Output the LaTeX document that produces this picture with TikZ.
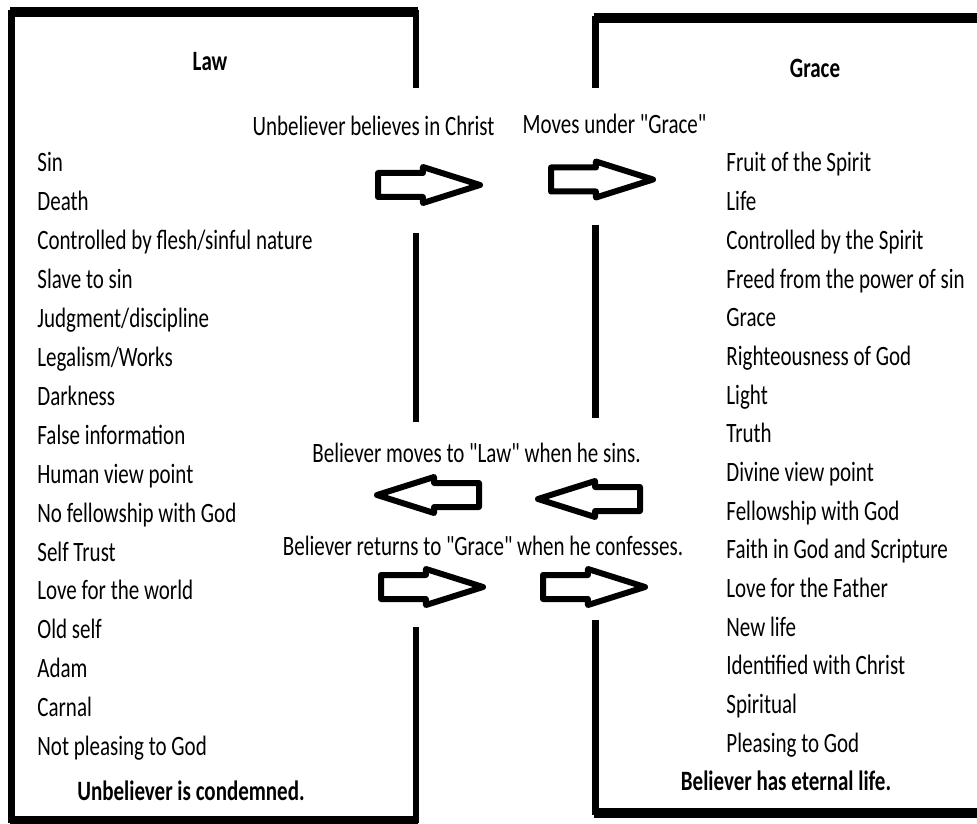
\documentclass[tikz,border=0pt]{standalone}
\usepackage{fontspec}
\newfontfamily\carlito{Carlito}[FakeStretch=0.75]
\usetikzlibrary{shapes.arrows}

\tikzset{
  item/.style={anchor=base west},
  title/.style={anchor=base, font=\fontsize{14}{17}\carlito\bfseries},
  note/.style={anchor=base},
  hwall/.style={line width=5pt},
  vwall/.style={line width=3.25pt},
  blockarrow/.style={single arrow, draw, fill=white, line width=3pt, line join=round,
    minimum height=51pt, inner sep=4.5pt, single arrow head extend=3pt,
    single arrow tip angle=35, anchor=tail},
  backarrow/.style={blockarrow, shape border rotate=180}
}

\begin{document}
\begin{tikzpicture}[x=0.5pt, y=-0.5pt, every node/.style={font=\fontsize{14}{17}\carlito, inner sep=0pt}]
  \useasboundingbox (0,0) rectangle (977,823);
  % Law box, open on the right where the arrows pass
  \draw[hwall] (10,12) -- (418,12);
  \draw[hwall] (10,821) -- (418,821);
  \draw[vwall] (11.5,10) -- (11.5,823);
  \draw[vwall] (416,10) -- (416,88);
  \draw[vwall] (416,233) -- (416,422);
  \draw[vwall] (416,627) -- (416,823);
  % Grace box, runs off the right edge
  \draw[hwall] (594,18) -- (977,18);
  \draw[hwall] (594,813) -- (977,813);
  \draw[vwall] (595.5,16) -- (595.5,88);
  \draw[vwall] (595.5,225) -- (595.5,418);
  \draw[vwall] (595.5,620) -- (595.5,815);

  \node[title] (law) at (210,71) {Law};
  \node[title] (grace) at (815,78) {Grace};

  \node[item] (sin) at (37,172) {Sin};
  \node[item] (death) at (37,210.9) {Death};
  \node[item] (flesh) at (37,249.8) {Controlled by flesh/sinful nature};
  \node[item] (slave) at (37,288.7) {Slave to sin};
  \node[item] (judgment) at (37,327.6) {Judgment/discipline};
  \node[item] (legalism) at (37,366.5) {Legalism/Works};
  \node[item] (darkness) at (37,405.4) {Darkness};
  \node[item] (false) at (37,444.3) {False information};
  \node[item] (human) at (37,483.2) {Human view point};
  \node[item] (nofellow) at (37,522.1) {No fellowship with God};
  \node[item] (selftrust) at (37,561) {Self Trust};
  \node[item] (world) at (37,599.9) {Love for the world};
  \node[item] (oldself) at (37,638.8) {Old self};
  \node[item] (adam) at (37,677.7) {Adam};
  \node[item] (carnal) at (37,716.6) {Carnal};
  \node[item] (notpleasing) at (37,755.5) {Not pleasing to God};
  \node[note, font=\fontsize{14}{17}\carlito\bfseries] (condemned) at (191,800) {Unbeliever is condemned.};

  \node[item] (fruit) at (726,172) {Fruit of the Spirit};
  \node[item] (life) at (726,210.7) {Life};
  \node[item] (spirit) at (726,249.3) {Controlled by the Spirit};
  \node[item] (freed) at (726,288) {Freed from the power of sin};
  \node[item] (gracei) at (726,326.7) {Grace};
  \node[item] (righteous) at (726,365.4) {Righteousness of God};
  \node[item] (light) at (726,404) {Light};
  \node[item] (truth) at (726,442.7) {Truth};
  \node[item] (divine) at (726,481.4) {Divine view point};
  \node[item] (fellow) at (726,520) {Fellowship with God};
  \node[item] (faith) at (726,558.7) {Faith in God and Scripture};
  \node[item] (father) at (726,597.4) {Love for the Father};
  \node[item] (newlife) at (726,636) {New life};
  \node[item] (identified) at (726,674.7) {Identified with Christ};
  \node[item] (spiritual) at (726,713.4) {Spiritual};
  \node[item] (pleasing) at (726,752) {Pleasing to God};
  \node[note, font=\fontsize{14}{17}\carlito\bfseries] (eternal) at (786,790) {Believer has eternal life.};

  % the moves between the boxes
  \node[note] (believes) at (373.5,136) {Unbeliever believes in Christ};
  \node[note] (moves) at (614.5,134) {Moves under "Grace"};
  \node[note] (sins) at (476.5,462) {Believer moves to "Law" when he sins.};
  \node[note] (confesses) at (483,555) {Believer returns to "Grace" when he confesses.};

  \node[blockarrow] (in1) at (375,185) {};
  \node[blockarrow] (in2) at (548,179.5) {};
  \node[backarrow] (out1) at (482,495) {};
  \node[backarrow] (out2) at (643,499) {};
  \node[blockarrow] (back1) at (378,587) {};
  \node[blockarrow] (back2) at (540,587) {};
\end{tikzpicture}
\end{document}
